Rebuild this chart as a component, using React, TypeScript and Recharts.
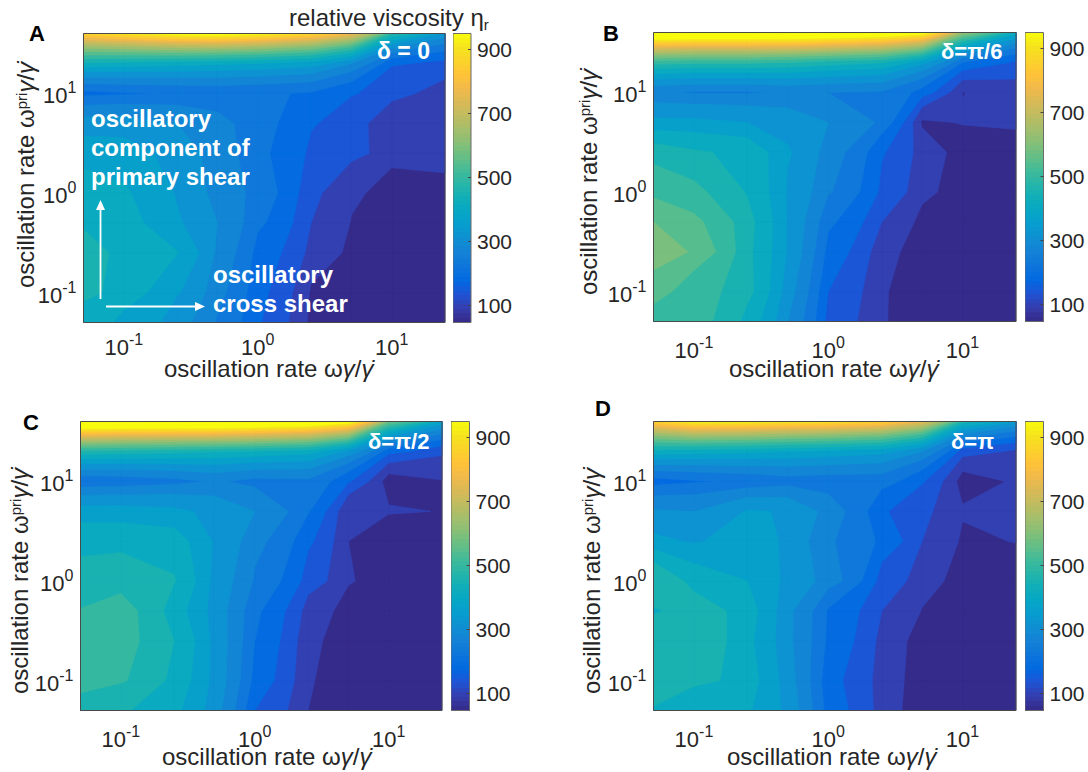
import { ReferenceArea, Scatter, ScatterChart, XAxis, YAxis } from 'recharts'

const X_GRID = [0.05, 0.1, 0.25, 0.5, 1, 2.5, 5, 10, 25]
const Y_GRID = [0.05, 0.1, 0.25, 0.5, 1, 2.5, 5, 10, 20, 40]
const LOG_TICKS_X = [0.1, 1, 10]
const LOG_TICKS_Y = [0.1, 1, 10]
const BAR_TICKS = [100, 300, 500, 700, 900]
const BAR_MIN = 47
const BAR_MAX = 950
const LEVELS = Array.from({ length: 30 }, (_, i) => 50 + i * 45)

// relative viscosity, one row per Y_GRID entry (bottom row first)
const VISC_A = [
  [430, 400, 340, 270, 190, 83, 70, 70, 65],
  [470, 430, 370, 290, 200, 90, 72, 68, 65],
  [480, 435, 412, 310, 215, 125, 82, 68, 65],
  [445, 425, 370, 320, 240, 140, 93, 70, 68],
  [430, 415, 360, 300, 260, 150, 103, 75, 82],
  [390, 385, 340, 300, 240, 175, 155, 113, 115],
  [340, 340, 320, 290, 245, 190, 150, 120, 120],
  [215, 225, 235, 240, 235, 225, 190, 150, 120],
  [450, 440, 430, 420, 410, 390, 320, 190, 170],
  [890, 930, 985, 1000, 970, 900, 800, 500, 350],
]
const VISC_B = [
  [530, 520, 440, 320, 170, 100, 55, 55, 55],
  [560, 520, 470, 340, 185, 100, 60, 55, 55],
  [630, 580, 465, 360, 215, 110, 70, 55, 55],
  [590, 555, 470, 360, 240, 140, 80, 55, 55],
  [530, 510, 450, 360, 280, 175, 110, 60, 55],
  [480, 460, 440, 370, 300, 190, 120, 72, 55],
  [375, 375, 365, 345, 320, 265, 88, 98, 112],
  [280, 270, 270, 282, 275, 270, 210, 94, 120],
  [520, 510, 510, 500, 480, 460, 380, 230, 175],
  [1130, 1120, 1120, 1120, 1100, 1060, 1000, 650, 430],
]
const VISC_C = [
  [490, 460, 420, 340, 185, 95, 55, 55, 55],
  [510, 505, 440, 350, 215, 100, 60, 55, 55],
  [520, 515, 455, 350, 230, 105, 70, 55, 55],
  [502, 520, 430, 345, 240, 120, 75, 55, 55],
  [470, 480, 458, 350, 270, 165, 100, 60, 55],
  [440, 440, 430, 360, 290, 195, 95, 60, 55],
  [385, 385, 375, 350, 320, 235, 95, 100, 93],
  [240, 245, 260, 280, 260, 265, 190, 70, 93],
  [490, 480, 470, 460, 450, 430, 350, 200, 150],
  [1150, 1140, 1140, 1140, 1120, 1080, 1000, 600, 400],
]
const VISC_D = [
  [450, 410, 415, 350, 210, 120, 60, 62, 60],
  [500, 470, 430, 340, 200, 120, 67, 60, 60],
  [480, 490, 420, 330, 220, 125, 70, 65, 60],
  [450, 480, 430, 330, 225, 140, 93, 62, 60],
  [500, 435, 410, 350, 300, 165, 118, 68, 66],
  [375, 360, 400, 350, 280, 220, 140, 88, 97],
  [325, 320, 370, 360, 300, 190, 150, 100, 100],
  [210, 225, 240, 255, 250, 250, 190, 72, 104],
  [440, 430, 420, 410, 400, 380, 320, 160, 130],
  [880, 960, 950, 930, 920, 880, 780, 480, 370],
]

const PARULA = [
  [53, 42, 135], [53, 61, 173], [32, 83, 212], [2, 104, 225], [13, 117, 220], [20, 129, 214],
  [16, 142, 210], [7, 156, 207], [6, 167, 198], [15, 174, 185], [37, 181, 169], [66, 187, 152],
  [101, 190, 134], [135, 191, 119], [165, 190, 107], [192, 188, 96], [217, 186, 86], [241, 185, 74],
  [255, 195, 55], [250, 211, 42], [245, 228, 29], [249, 251, 14],
]

function parula(v: number) {
  const t = Math.min(1, Math.max(0, (v - BAR_MIN) / (BAR_MAX - BAR_MIN))) * (PARULA.length - 1)
  const i = Math.min(PARULA.length - 2, Math.floor(t))
  const f = t - i
  const c = PARULA[i].map((a, k) => Math.round(a + (PARULA[i + 1][k] - a) * f))
  return `rgb(${c[0]},${c[1]},${c[2]})`
}

// whole matrix, filled the way contourf does: one path per level, painted low to high
function ContourField({ x, y, width, height, vals }: any) {
  const nx = X_GRID.length - 1
  const ny = Y_GRID.length - 1
  const px = (d: number) => x + (width * Math.log(d / X_GRID[0])) / Math.log(X_GRID[nx] / X_GRID[0])
  const py = (d: number) => y + height - (height * Math.log(d / Y_GRID[0])) / Math.log(Y_GRID[ny] / Y_GRID[0])
  const at = (dx: number, dy: number) => `${px(dx).toFixed(2)} ${py(dy).toFixed(2)}`
  return (
    <g>
      {LEVELS.map((level) => {
        const cross = (a: any, b: any) => {
          const t = (level - a.v) / (b.v - a.v)
          return at(a.dx + t * (b.dx - a.dx), a.dy + t * (b.dy - a.dy))
        }
        let d = ''
        for (let j = 0; j < ny; j++) {
          for (let i = 0; i < nx; i++) {
            const corners = [
              { dx: X_GRID[i], dy: Y_GRID[j], v: vals[j][i] },
              { dx: X_GRID[i + 1], dy: Y_GRID[j], v: vals[j][i + 1] },
              { dx: X_GRID[i + 1], dy: Y_GRID[j + 1], v: vals[j + 1][i + 1] },
              { dx: X_GRID[i], dy: Y_GRID[j + 1], v: vals[j + 1][i] },
            ]
            const above = corners.map((c) => c.v >= level)
            const saddle = above[0] === above[2] && above[1] === above[3] && above[0] !== above[1]
            const mean = (corners[0].v + corners[1].v + corners[2].v + corners[3].v) / 4
            if (saddle && mean < level) {
              // low centre: the two high corners stay apart
              corners.forEach((c, k) => {
                if (!above[k]) return
                d += `M${cross(corners[(k + 3) % 4], c)}L${at(c.dx, c.dy)}L${cross(c, corners[(k + 1) % 4])}Z`
              })
              continue
            }
            const pts: string[] = []
            corners.forEach((a, k) => {
              const b = corners[(k + 1) % 4]
              if (above[k]) pts.push(at(a.dx, a.dy))
              if (above[k] !== above[(k + 1) % 4]) pts.push(cross(a, b))
            })
            if (pts.length > 2) d += `M${pts.join('L')}Z`
          }
        }
        if (!d) return null
        const c = parula(level)
        return <path key={level} d={d} fill={c} stroke={c} strokeWidth={0.6} strokeLinejoin="round" />
      })}
    </g>
  )
}

function XTick({ x, y, payload, dy }: any) {
  const e = Math.round(Math.log10(payload.value))
  return (
    <text x={x} y={y + dy} textAnchor="middle" fontFamily="Liberation Sans" fontSize={22} fill="#262626">
      10<tspan dy={-10} fontSize={16}>{e}</tspan>
    </text>
  )
}

function YTick({ x, y, payload }: any) {
  const e = Math.round(Math.log10(payload.value))
  return (
    <text x={x + 1} y={y + 10} textAnchor="end" fontFamily="Liberation Sans" fontSize={22} fill="#262626">
      10<tspan dy={-10} fontSize={16}>{e}</tspan>
    </text>
  )
}

function BarTick({ x, y, payload }: any) {
  return (
    <g>
      <line x1={x - 11} x2={x - 8} y1={y} y2={y} stroke="#444" />
      <text x={x - 2} y={y + 7} fontFamily="Liberation Sans" fontSize={21} fill="#262626">{payload.value}</text>
    </g>
  )
}

function Panel({ vals, box, plot, bar, tickDy }: any) {
  const points = Y_GRID.flatMap((yv, j) => X_GRID.map((xv, i) => ({ x: xv, y: yv, v: vals[j][i] })))
  const stepH = (BAR_MAX - BAR_MIN) / 64
  const steps = Array.from({ length: 64 }, (_, i) => ({ x: 0.5, y: BAR_MIN + stepH * i }))
  return (
    <>
      <div style={{ position: 'absolute', left: box.x, top: box.y }}>
        <ScatterChart width={plot.r - box.x + 2} height={box.h}
          margin={{ top: plot.t - box.y, right: 2, bottom: 0, left: 0 }}>
          <XAxis type="number" dataKey="x" scale="log" domain={[0.05, 25]} allowDataOverflow ticks={LOG_TICKS_X}
            axisLine={false} tickLine={false} height={box.y + box.h - plot.b} interval={0}
            tick={(p: any) => <XTick {...p} dy={tickDy} />} />
          <YAxis type="number" dataKey="y" scale="log" domain={[0.05, 40]} allowDataOverflow ticks={LOG_TICKS_Y}
            axisLine={false} tickLine={false} width={plot.l - box.x} interval={0} tick={YTick} />
          <Scatter data={points} isAnimationActive={false} shape={() => <g />} />
          <ReferenceArea x1={0.05} x2={25} y1={0.05} y2={40} ifOverflow="visible"
            shape={(r: any) => <ContourField {...r} vals={vals} />} />
          <ReferenceArea x1={0.05} x2={25} y1={0.05} y2={40} ifOverflow="visible" fill="none" fillOpacity={0} stroke="#4a4a4a" strokeWidth={1} />
        </ScatterChart>
      </div>
      <div style={{ position: 'absolute', left: bar.l, top: box.y }}>
        <ScatterChart width={bar.r - bar.l + 60} height={box.h}
          margin={{ top: plot.t - box.y, right: 0, bottom: box.y + box.h - plot.b, left: 0 }}>
          <XAxis type="number" dataKey="x" domain={[0, 1]} hide />
          <YAxis type="number" dataKey="y" orientation="right" domain={[BAR_MIN, BAR_MAX]} ticks={BAR_TICKS} width={60}
            axisLine={false} tickLine={false} interval={0} tick={BarTick} />
          <Scatter data={steps} isAnimationActive={false} shape={() => <g />} />
          {steps.map((s) => (
            <ReferenceArea key={s.y} x1={0} x2={1} y1={s.y} y2={s.y + stepH} ifOverflow="visible"
              fill={parula(s.y + stepH / 2)} fillOpacity={1} stroke="none" shapeRendering="crispEdges" />
          ))}
          <ReferenceArea x1={0} x2={1} y1={BAR_MIN} y2={BAR_MAX} ifOverflow="visible" fill="none" fillOpacity={0} stroke="#6b6b6b" strokeWidth={1} />
        </ScatterChart>
      </div>
    </>
  )
}

const F = 'Liberation Sans'
const DOT_GAMMA = 'γ\u0307'

function XTitle({ x, y }: any) {
  return (
    <text x={x} y={y} fontFamily={F} fontSize={24} fill="#262626">
      oscillation rate ω<tspan fontStyle="italic">γ</tspan>/<tspan fontStyle="italic">{DOT_GAMMA}</tspan>
    </text>
  )
}

function YTitle({ x, y }: any) {
  return (
    <text transform={`translate(${x},${y}) rotate(-90)`} textAnchor="middle" fontFamily={F} fontSize={24} fill="#262626">
      oscillation rate ω<tspan dy={-7} fontSize={15}>pri</tspan><tspan dy={7} fontStyle="italic">γ</tspan>/<tspan fontStyle="italic">{DOT_GAMMA}</tspan>
    </text>
  )
}

function Note({ x, y, children, size = 24 }: any) {
  return <text x={x} y={y} fontFamily={F} fontWeight="bold" fontSize={size} fill="#fff">{children}</text>
}

function Letter({ x, y, children }: any) {
  return <text x={x} y={y} fontFamily={F} fontWeight="bold" fontSize={22} fill="#000">{children}</text>
}

export default function App() {
  return (
    <div style={{ position: 'absolute', left: 0, top: 0, width: 1088, height: 772, background: '#fff', overflow: 'hidden' }}>
      <Panel vals={VISC_A} tickDy={24.5} box={{ x: 0, y: 0, h: 385 }} plot={{ l: 83.5, r: 445, t: 33.5, b: 322.5 }} bar={{ l: 453, r: 471 }} />
      <Panel vals={VISC_B} tickDy={28} box={{ x: 570, y: 0, h: 385 }} plot={{ l: 653.5, r: 1016, t: 32.5, b: 321.5 }} bar={{ l: 1024.5, r: 1043 }} />
      <Panel vals={VISC_C} tickDy={28.5} box={{ x: 0, y: 387, h: 385 }} plot={{ l: 80.5, r: 442, t: 421.5, b: 710.5 }} bar={{ l: 450.5, r: 469 }} />
      <Panel vals={VISC_D} tickDy={28.5} box={{ x: 570, y: 387, h: 385 }} plot={{ l: 653.5, r: 1016, t: 421.5, b: 710.5 }} bar={{ l: 1024.5, r: 1043 }} />
      <svg width={1088} height={772} style={{ position: 'absolute', left: 0, top: 0 }}>
        <Letter x={29} y={41}>A</Letter>
        <Letter x={603} y={41}>B</Letter>
        <Letter x={23} y={430}>C</Letter>
        <Letter x={595} y={416}>D</Letter>
        <text x={289} y={26} fontFamily={F} fontSize={24} fill="#262626">relative viscosity η<tspan dy={4} fontSize={15}>r</tspan></text>
        <XTitle x={164} y={377} />
        <XTitle x={729} y={377} />
        <XTitle x={162} y={765} />
        <XTitle x={727} y={765} />
        <YTitle x={34} y={175} />
        <YTitle x={597} y={182} />
        <YTitle x={28} y={581} />
        <YTitle x={600} y={581} />
        <Note x={377} y={59} size={23}>δ = 0</Note>
        <Note x={941} y={59} size={22}>δ=π/6</Note>
        <Note x={368} y={449} size={22}>δ=π/2</Note>
        <Note x={951} y={449} size={22}>δ=π</Note>
        <Note x={91} y={127}>oscillatory</Note>
        <Note x={91} y={156}>component of</Note>
        <Note x={91} y={185}>primary shear</Note>
        <Note x={213} y={283}>oscillatory</Note>
        <Note x={213} y={312}>cross shear</Note>
        <line x1={100.5} x2={100.5} y1={299} y2={208} stroke="#fff" strokeWidth={1.8} />
        <polygon points="100.5,200 96,210 105,210" fill="#fff" />
        <line x1={106} x2={197} y1={306.5} y2={306.5} stroke="#fff" strokeWidth={1.8} />
        <polygon points="205,306.5 195,302 195,311" fill="#fff" />
      </svg>
    </div>
  )
}
